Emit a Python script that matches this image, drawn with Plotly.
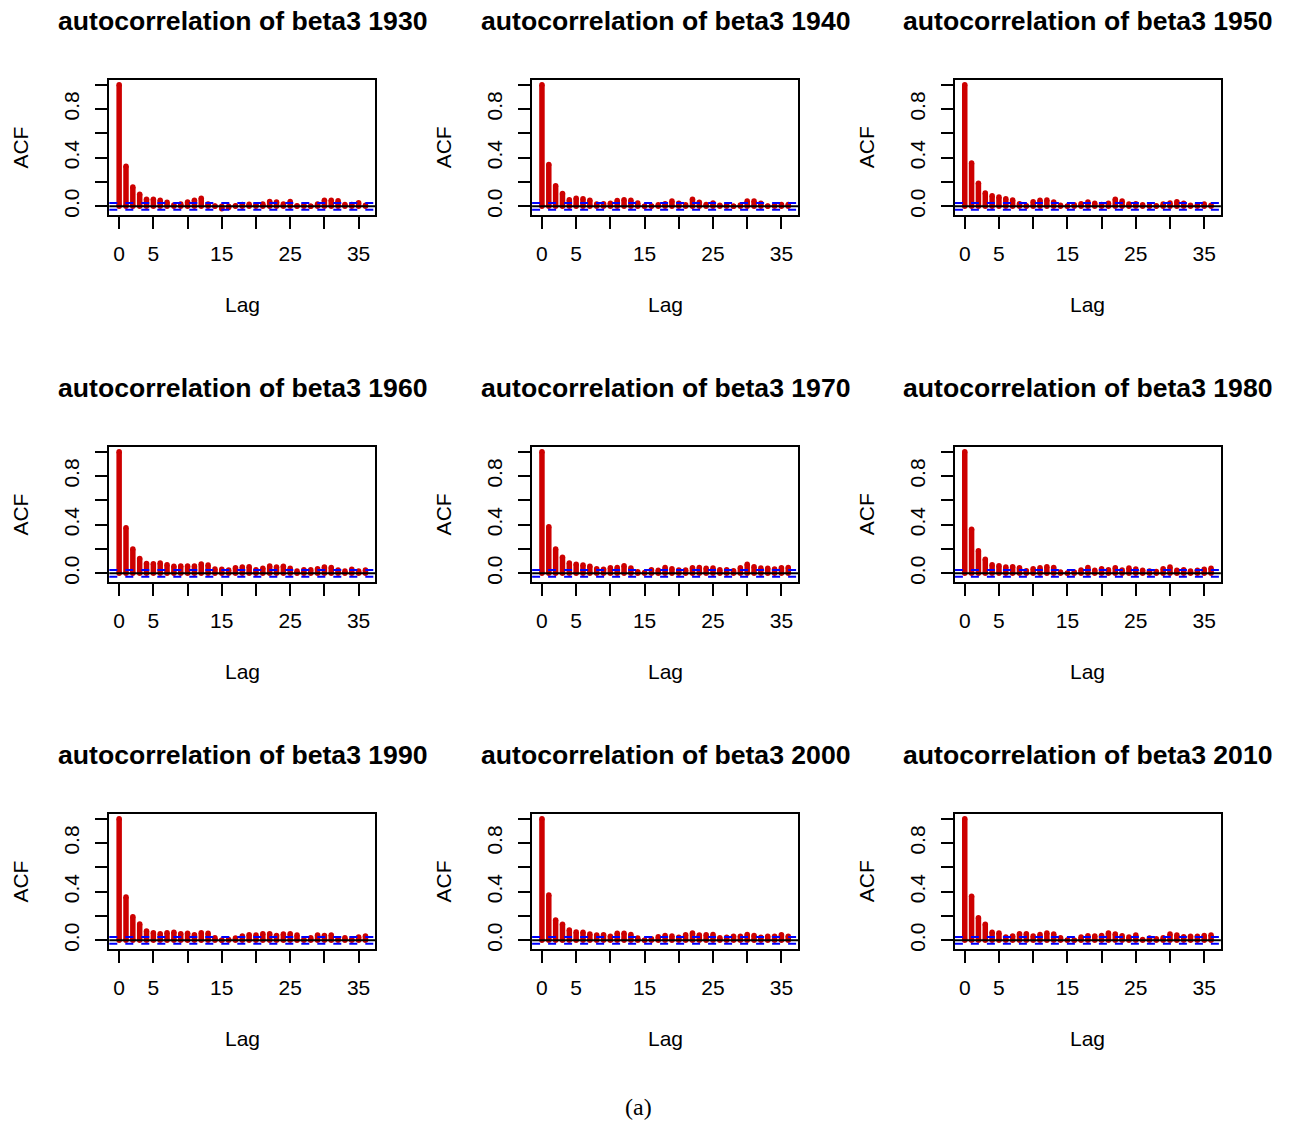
import plotly.graph_objects as go

# Lags shown in every panel
lags = list(range(37))

# Decades, one panel each (3 x 3 grid, row-major)
years = [1930, 1940, 1950, 1960, 1970, 1980, 1990, 2000, 2010]

# Sample autocorrelations of beta3, lag 0..36
acf_1930 = [1.0, 0.33, 0.16, 0.10, 0.058, 0.058, 0.05, 0.033, 0.01, 0.02, 0.035, 0.05, 0.066,
            0.02, 0.003, -0.02, -0.01, 0.005, 0.015, 0.018, 0.012, 0.02, 0.04, 0.035, 0.02,
            0.04, 0.005, 0.008, 0.0, 0.02, 0.05, 0.05, 0.045, 0.015, 0.015, 0.03, 0.008]
acf_1940 = [1.0, 0.345, 0.17, 0.105, 0.055, 0.066, 0.063, 0.05, 0.02, 0.022, 0.025, 0.047, 0.055,
            0.05, 0.028, 0.0, 0.003, 0.014, 0.022, 0.044, 0.025, 0.014, 0.058, 0.033, 0.016,
            0.028, 0.008, 0.008, 0.0, 0.01, 0.044, 0.044, 0.025, 0.003, 0.008, 0.016, 0.016]
acf_1950 = [1.0, 0.356, 0.19, 0.11, 0.088, 0.077, 0.063, 0.052, 0.022, 0.005, 0.038, 0.05, 0.052,
            0.036, 0.008, 0.003, 0.014, 0.022, 0.036, 0.025, 0.016, 0.025, 0.058, 0.044, 0.019,
            0.022, 0.014, 0.003, 0.005, 0.019, 0.028, 0.038, 0.025, 0.008, 0.01, 0.019, 0.008]
acf_1960 = [1.0, 0.375, 0.20, 0.123, 0.082, 0.08, 0.085, 0.071, 0.058, 0.06, 0.06, 0.06, 0.077,
            0.068, 0.036, 0.033, 0.027, 0.047, 0.052, 0.055, 0.03, 0.041, 0.06, 0.052, 0.058,
            0.041, 0.019, 0.03, 0.03, 0.038, 0.052, 0.049, 0.027, 0.019, 0.033, 0.019, 0.027]
acf_1970 = [1.0, 0.384, 0.20, 0.132, 0.085, 0.074, 0.068, 0.058, 0.038, 0.033, 0.047, 0.049, 0.063,
            0.044, 0.014, 0.008, 0.03, 0.025, 0.049, 0.038, 0.027, 0.027, 0.047, 0.049, 0.041,
            0.044, 0.03, 0.03, 0.022, 0.047, 0.074, 0.055, 0.044, 0.041, 0.036, 0.047, 0.049]
acf_1980 = [1.0, 0.362, 0.186, 0.115, 0.071, 0.063, 0.052, 0.055, 0.047, 0.022, 0.038, 0.047, 0.055,
            0.049, 0.011, 0.003, 0.011, 0.027, 0.049, 0.025, 0.038, 0.03, 0.047, 0.027, 0.044,
            0.036, 0.025, 0.019, 0.016, 0.038, 0.052, 0.025, 0.03, 0.019, 0.025, 0.033, 0.041]
acf_1990 = [1.0, 0.356, 0.194, 0.134, 0.077, 0.063, 0.055, 0.063, 0.066, 0.055, 0.058, 0.047, 0.063,
            0.058, 0.022, 0.0, 0.008, 0.019, 0.036, 0.047, 0.044, 0.055, 0.055, 0.041, 0.052,
            0.055, 0.044, 0.005, 0.022, 0.044, 0.041, 0.044, 0.014, 0.022, 0.008, 0.027, 0.036]
acf_2000 = [1.0, 0.373, 0.167, 0.132, 0.085, 0.068, 0.066, 0.052, 0.044, 0.047, 0.033, 0.058, 0.058,
            0.049, 0.019, 0.0, 0.014, 0.03, 0.041, 0.036, 0.025, 0.047, 0.06, 0.044, 0.047,
            0.049, 0.022, 0.025, 0.033, 0.033, 0.049, 0.041, 0.025, 0.033, 0.033, 0.047, 0.033]
acf_2010 = [1.0, 0.364, 0.186, 0.132, 0.066, 0.06, 0.027, 0.036, 0.055, 0.055, 0.036, 0.049, 0.06,
            0.052, 0.022, 0.003, 0.0, 0.027, 0.038, 0.036, 0.041, 0.06, 0.052, 0.038, 0.027,
            0.044, 0.008, 0.019, 0.014, 0.022, 0.052, 0.044, 0.03, 0.033, 0.033, 0.041, 0.044]

acf_values = [acf_1930, acf_1940, acf_1950, acf_1960, acf_1970,
              acf_1980, acf_1990, acf_2000, acf_2010]

# 95% white-noise confidence bound
clim = 0.028

# Axis ticks
x_major = [0, 5, 15, 25, 35]
x_minor = [10, 20, 30]
y_major = [0.0, 0.4, 0.8]
y_major_text = ["0.0", "0.4", "0.8"]
y_minor = [0.2, 0.6, 1.0]

W, H = 1291, 1126
FONT = "Liberation Sans, Arial, Helvetica, sans-serif"
RED = "#CD0000"

# Panel geometry (pixels)
box_w, box_h = 266.0, 135.3
col_left = [109.3, 532.1, 954.9]
row_top = [80.0, 448.0, 816.0]

# R-style axis limits: data range expanded by 4%
ylo, yhi = min(-clim, min(min(a) for a in acf_values)), 1.0
pad = 0.04 * (yhi - ylo)
y_range = [ylo - pad, yhi + pad]
xpad = 0.04 * (lags[-1] - lags[0])
x_range = [lags[0] - xpad, lags[-1] + xpad]

fig = go.Figure()
annotations = []
shapes = []

for i, (year, acf) in enumerate(zip(years, acf_values)):
    r, c = divmod(i, 3)
    L, T = col_left[c], row_top[r]
    n = i + 1
    xa = "x" if n == 1 else f"x{n}"
    ya = "y" if n == 1 else f"y{n}"
    xkey = "xaxis" if n == 1 else f"xaxis{n}"
    ykey = "yaxis" if n == 1 else f"yaxis{n}"

    # vertical spikes from 0 to each autocorrelation
    xs, ys = [], []
    for lag, v in zip(lags, acf):
        xs += [lag, lag, None]
        ys += [0, v, None]
    fig.add_trace(go.Scatter(
        x=xs, y=ys, mode="lines+markers", xaxis=xa, yaxis=ya,
        line=dict(color=RED, width=5.5),
        marker=dict(color=RED, size=5.5, line=dict(width=0)),
        hoverinfo="skip", showlegend=False,
    ))

    axis_common = dict(
        showgrid=False, zeroline=False, showline=True, mirror=True,
        linecolor="black", linewidth=2,
        ticks="outside", ticklen=12, tickwidth=2, tickcolor="black",
        tickfont=dict(family=FONT, size=21, color="black"),
    )
    fig.update_layout({
        xkey: dict(
            domain=[L / W, (L + box_w) / W], range=x_range, anchor=ya,
            tickmode="array", tickvals=x_major, ticktext=[str(v) for v in x_major],
            minor=dict(tickmode="array", tickvals=x_minor, ticks="outside",
                       ticklen=12, tickwidth=2, tickcolor="black"),
            ticklabelstandoff=7,
            **axis_common,
        ),
        ykey: dict(
            domain=[1 - (T + box_h) / H, 1 - T / H], range=y_range, anchor=xa,
            tickmode="array", tickvals=y_major, ticktext=y_major_text, tickangle=-90,
            minor=dict(tickmode="array", tickvals=y_minor, ticks="outside",
                       ticklen=12, tickwidth=2, tickcolor="black"),
            ticklabelstandoff=8,
            **axis_common,
        ),
    })

    # zero line and dashed confidence bounds
    shapes.append(dict(type="line", xref=f"{xa} domain", yref=ya, x0=0, x1=1, y0=0, y1=0,
                       line=dict(color="black", width=2), layer="above"))
    for b in (clim, -clim):
        shapes.append(dict(type="line", xref=f"{xa} domain", yref=ya, x0=0, x1=1, y0=b, y1=b,
                           line=dict(color="#0000FF", width=2, dash="8px,8px"), layer="above"))

    cx = (L + box_w / 2) / W
    annotations.append(dict(
        text=f"<b>autocorrelation of beta3 {year}</b>", x=cx, y=1 - (T - 59) / H,
        xref="paper", yref="paper", xanchor="center", yanchor="middle", showarrow=False,
        font=dict(family=FONT, size=26.6, color="black")))
    annotations.append(dict(
        text="Lag", x=cx, y=1 - (T + box_h + 90) / H,
        xref="paper", yref="paper", xanchor="center", yanchor="middle", showarrow=False,
        font=dict(family=FONT, size=21, color="black")))
    annotations.append(dict(
        text="ACF", x=(L - 89) / W, y=1 - (T + box_h / 2) / H, textangle=-90,
        xref="paper", yref="paper", xanchor="center", yanchor="middle", showarrow=False,
        font=dict(family=FONT, size=21, color="black")))

annotations.append(dict(
    text="(a)", x=638 / W, y=1 - 1110 / H, xref="paper", yref="paper",
    xanchor="center", yanchor="middle", showarrow=False,
    font=dict(family="Liberation Serif, DejaVu Serif, serif", size=24, color="black")))

fig.update_layout(
    width=W, height=H, margin=dict(l=0, r=0, t=0, b=0),
    paper_bgcolor="white", plot_bgcolor="white",
    annotations=annotations, shapes=shapes, showlegend=False,
)

fig.write_html("out.html")
